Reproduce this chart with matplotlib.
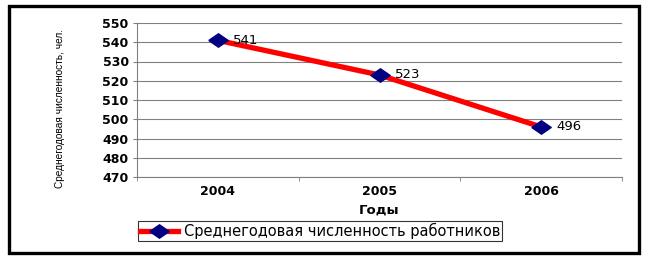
import matplotlib.pyplot as plt
from matplotlib.patches import Rectangle

years = ['2004', '2005', '2006']
values = [541, 523, 496]
yticks = [470, 480, 490, 500, 510, 520, 530, 540, 550]
series_name = 'Среднегодовая численность работников'

W, H = 647, 257
fig = plt.figure(figsize=(W / 100, H / 100), dpi=100)

# outer frame, as in the Excel chart area
fig.patches.append(Rectangle((9 / W, 1 - 253 / H), 630 / W, 247 / H, transform=fig.transFigure,
                             facecolor='white', edgecolor='black', linewidth=2.4, zorder=1))

# wide diamond like Excel's marker
diamond = [(-1.45, 0), (0, 1), (1.45, 0), (0, -1), (-1.45, 0)]

ax = fig.add_axes([137 / W, 1 - 177 / H, (622 - 137) / W, (177 - 23) / H])
ax.set_zorder(2)
x = list(range(len(years)))
ax.plot(x, values, color='#ff0000', linewidth=3.8, marker=diamond, markersize=14,
        markerfacecolor='#000080', markeredgecolor='#000080', label=series_name, zorder=3)
for xi, v in zip(x, values):
    ax.annotate(str(v), (xi, v), xytext=(11, 0), textcoords='offset points',
                va='center', ha='left', fontsize=9.5)

ax.set_xlim(-0.5, len(years) - 0.5)
ax.set_ylim(470, 550)
ax.set_yticks(yticks)
ax.set_yticklabels([str(t) for t in yticks], fontsize=9, fontweight='bold')
ax.set_xticks(x)
ax.set_xticklabels(years, fontsize=9, fontweight='bold')
ax.set_xticks([-0.5, 0.5, 1.5, 2.5], minor=True)
ax.tick_params(axis='x', which='major', length=0, pad=6)
ax.tick_params(axis='x', which='minor', length=3, direction='out', color='gray')
ax.tick_params(axis='y', length=3, direction='out', color='gray', pad=3)
ax.grid(axis='y', color='#808080', linewidth=0.8)
ax.set_axisbelow(True)
for s in ['top', 'right']:
    ax.spines[s].set_visible(False)
ax.spines['left'].set_color('gray')
ax.spines['bottom'].set_color('gray')

ax.set_xlabel('Годы', fontsize=9.5, fontweight='bold', labelpad=4)
fig.text(60 / W, 1 - 108 / H, 'Среднегодовая численность, чел.', rotation=90,
         ha='center', va='center', fontsize=7.3, family=['Liberation Sans', 'DejaVu Sans'])

leg = fig.legend(loc='center', bbox_to_anchor=(320 / W, 1 - 231 / H), frameon=True,
                 fancybox=False, edgecolor='black', fontsize=10.5, handlelength=2.6,
                 borderpad=0.1, handletextpad=0.4, borderaxespad=0)
leg.get_frame().set_linewidth(0.8)

fig.savefig('out.png', dpi=100)
